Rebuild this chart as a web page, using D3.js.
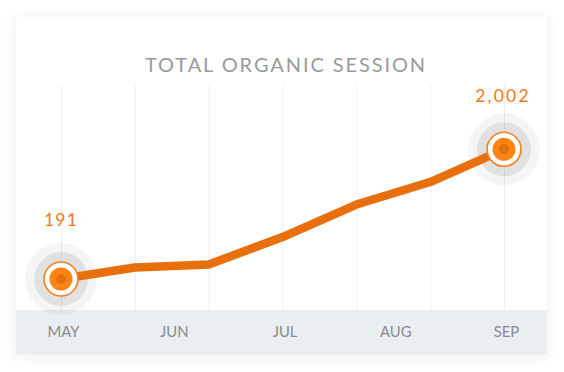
<!DOCTYPE html>
<html><head><meta charset="utf-8">
<script src="https://cdn.jsdelivr.net/npm/d3@7"></script>
<style>html,body{margin:0;padding:0;background:#fff;}svg{display:block;}</style>
</head><body>
<svg id="c" width="564" height="372"></svg>
<script>
const title = "TOTAL ORGANIC SESSION";
const points = [0, 1, 2, 3, 4, 5, 6];
const values = [191, 351, 393, 777, 1231, 1545, 2002];
const monthLabels = ["MAY", "JUN", "JUL", "AUG", "SEP"];
const monthPositions = [0, 1.5, 3, 4.5, 6];
const highlighted = [0, 6];

const svg = d3.select("#c");
const defs = svg.append("defs");
const f = defs.append("filter").attr("id","sh").attr("x","-10%").attr("y","-10%").attr("width","120%").attr("height","125%");
f.append("feDropShadow").attr("dx",0).attr("dy",2).attr("stdDeviation",7).attr("flood-color","#000").attr("flood-opacity",0.07);

const card = {x:16, y:17, w:531, h:337};
svg.append("rect").attr("x",card.x).attr("y",card.y).attr("width",card.w).attr("height",card.h)
  .attr("fill","#fff").attr("filter","url(#sh)");

const x = d3.scaleLinear().domain([0,6]).range([61,504]);
const y = d3.scaleLinear().domain([191,2002]).range([279,149.3]);
const bandTop = 310;

// grid
svg.append("g").selectAll("line").data(points).join("line")
  .attr("x1",d=>x(d)+0.5).attr("x2",d=>x(d)+0.5).attr("y1",85).attr("y2",bandTop)
  .attr("stroke","#eeeeee").attr("stroke-width",1);

// title
svg.append("text").attr("x",286).attr("y",72.3).attr("text-anchor","middle")
  .attr("font-family","Lato, 'Open Sans', sans-serif").attr("font-size",20).attr("letter-spacing",1.9)
  .attr("fill","#9a9a9a").text(title);

// axis band
svg.append("rect").attr("x",card.x).attr("y",bandTop).attr("width",card.w).attr("height",card.y+card.h-bandTop)
  .attr("fill","#e9eef1");

// halos
const hg = svg.append("g");
highlighted.forEach(i=>{
  hg.append("circle").attr("cx",x(i)).attr("cy",y(values[i])).attr("r",36).attr("fill","#000").attr("fill-opacity",0.04);
  hg.append("circle").attr("cx",x(i)).attr("cy",y(values[i])).attr("r",27).attr("fill","#000").attr("fill-opacity",0.08);
});

// axis
const axis = d3.axisBottom(x).tickValues(monthPositions).tickFormat((d,i)=>monthLabels[i]).tickSize(0).tickPadding(0);
const ag = svg.append("g").attr("transform",`translate(2,${bandTop})`).call(axis);
ag.select(".domain").remove();
ag.selectAll("text").attr("dy",0).attr("y",27).attr("font-family","Lato, 'Open Sans', sans-serif").attr("font-size",14.8).attr("fill","#8a8a8a");

// line
const line = d3.line().x((d,i)=>x(points[i])).y(d=>y(d));
svg.append("path").datum(values).attr("d",line).attr("fill","none").attr("stroke","#e8700c")
  .attr("stroke-width",8.5).attr("stroke-linejoin","round");

// markers
const mg = svg.append("g");
highlighted.forEach((i,k)=>{
  const cx=x(i), cy=y(values[i]);
  mg.append("circle").attr("cx",cx).attr("cy",cy).attr("r",17).attr("fill","#fff").attr("stroke","#f4801a").attr("stroke-width",1.6);
  mg.append("circle").attr("cx",cx).attr("cy",cy).attr("r",11.5).attr("fill","#fd8312");
  mg.append("circle").attr("cx",cx).attr("cy",cy).attr("r",5).attr("fill","#e36f0c");
  mg.append("text").attr("x",cx - (k===0?0:1)).attr("y",cy-(k===0?53.3:47.7)).attr("text-anchor","middle")
    .attr("font-family","Lato, 'Open Sans', sans-serif").attr("font-size",17.5).attr("letter-spacing",k===0?1.2:2.2)
    .attr("fill","#f07a1a").text(d3.format(",")(values[i]));
});
</script>
</body></html>
